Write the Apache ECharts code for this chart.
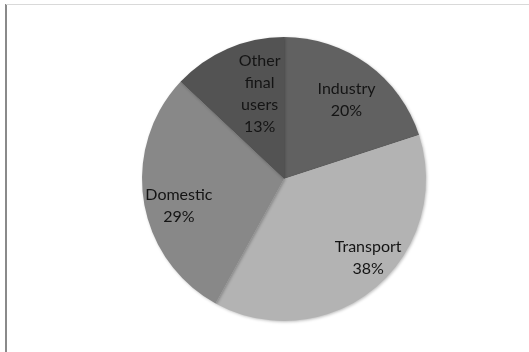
<!DOCTYPE html>
<html>
<head>
<meta charset="utf-8">
<style>
  html, body { margin: 0; padding: 0; background: #fff; }
  #chart { width: 529px; height: 352px; }
</style>
<script src="https://cdn.jsdelivr.net/npm/echarts@6/dist/echarts.min.js"></script>
</head>
<body>
<div id="chart"></div>
<script>
// Final energy consumption by sector (share, %)
const sectors = ['Industry', 'Transport', 'Domestic', 'Other final users'];
const shares = [20, 38, 29, 13];
const sliceColors = ['#616161', '#b3b3b3', '#888888', '#535353'];

// Nudges that move each inside label toward the rim
const labelNudge = [[19, -19], [37, 22], [-32, 15], [5, -17]];

const chart = echarts.init(document.getElementById('chart'), null, { renderer: 'canvas' });

chart.setOption({
  animation: false,
  backgroundColor: '#ffffff',
  graphic: [
    // plot frame: dark left edge, light top edge
    { type: 'rect', shape: { x: 5, y: 4, width: 2, height: 360 }, style: { fill: '#8a8a8a' }, silent: true },
    { type: 'rect', shape: { x: 6, y: 4, width: 523, height: 1 }, style: { fill: '#d9d9d9' }, silent: true }
  ],
  series: [{
    type: 'pie',
    center: [284, 179],
    radius: 142,
    startAngle: 90,
    clockwise: true,
    avoidLabelOverlap: false,
    data: sectors.map((name, i) => ({
      name: name,
      value: shares[i],
      itemStyle: { color: sliceColors[i] }
    })),
    itemStyle: {
      borderWidth: 0,
      shadowColor: 'rgba(0,0,0,0.25)',
      shadowBlur: 3,
      shadowOffsetX: 1,
      shadowOffsetY: 1
    },
    label: {
      show: true,
      position: 'inside',
      formatter: p => p.name.split(' ').join('\n') + '\n' + p.value + '%',
      color: '#141414',
      fontFamily: 'Lato, "Open Sans", sans-serif',
      fontSize: 16,
      lineHeight: 22,
      align: 'center'
    },
    labelLine: { show: false },
    labelLayout: p => ({ dx: labelNudge[p.dataIndex][0], dy: labelNudge[p.dataIndex][1] }),
    emphasis: { disabled: true }
  }]
});
</script>
</body>
</html>
